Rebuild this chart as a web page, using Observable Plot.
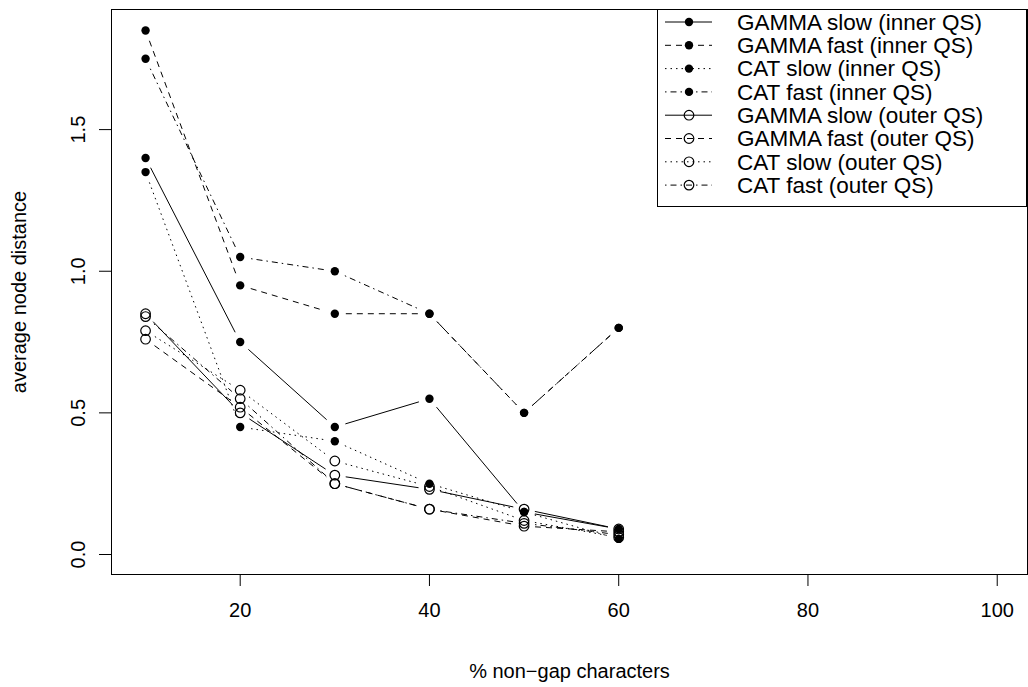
<!DOCTYPE html>
<html><head><meta charset="utf-8">
<script src="https://cdn.jsdelivr.net/npm/d3@7"></script>
<script src="https://cdn.jsdelivr.net/npm/@observablehq/plot@0.6"></script>
<style>
body{margin:0;background:#fff;font-family:"Liberation Sans",Arial,sans-serif;}
#wrap{position:relative;width:1028px;height:687px;overflow:hidden;}
#legend{position:absolute;left:657px;top:9px;}
</style></head><body><div id="wrap"></div>
<script>
// ---- data ----
const pctNonGap = [10, 20, 30, 40, 50, 60];
const xTicks = [20, 40, 60, 80, 100];
const yTicks = [0, 0.5, 1.0, 1.5];
const seriesLabels = [
  "GAMMA slow (inner QS)", "GAMMA fast (inner QS)", "CAT slow (inner QS)", "CAT fast (inner QS)",
  "GAMMA slow (outer QS)", "GAMMA fast (outer QS)", "CAT slow (outer QS)", "CAT fast (outer QS)"
];
const gammaSlowInner = [1.40, 0.75, 0.45, 0.55, 0.15, 0.09];
const gammaFastInner = [1.85, 0.95, 0.85, 0.85, 0.50, 0.80];
const catSlowInner   = [1.35, 0.45, 0.40, 0.25, 0.15, 0.055];
const catFastInner   = [1.75, 1.05, 1.00, 0.85, 0.50, 0.80];
const gammaSlowOuter = [0.85, 0.50, 0.28, 0.23, 0.16, 0.09];
const gammaFastOuter = [0.76, 0.52, 0.25, 0.16, 0.10, 0.08];
const catSlowOuter   = [0.79, 0.58, 0.33, 0.24, 0.12, 0.06];
const catFastOuter   = [0.84, 0.55, 0.25, 0.16, 0.11, 0.07];
const seriesValues = [gammaSlowInner, gammaFastInner, catSlowInner, catFastInner,
                      gammaSlowOuter, gammaFastOuter, catSlowOuter, catFastOuter];

// ---- styles ----
const lineTypes = ["solid", "dashed", "dotted", "dotdash", "solid", "dashed", "dotted", "dotdash"];
const filledMarker = [true, true, true, true, false, false, false, false];
const dashes = {solid: "none", dashed: "6,5", dotted: "1.5,4", dotdash: "1.5,4,6,4"};
const FONT = "Liberation Sans, Arial, Helvetica, sans-serif";

const points = seriesValues.flatMap((vals, i) => vals.map((v, j) => ({x: pctNonGap[j], y: v, s: i})));
const segments = i => seriesValues[i].slice(0, -1).map((v, j) => ({
  x1: pctNonGap[j], y1: v, x2: pctNonGap[j + 1], y2: seriesValues[i][j + 1]
}));

const marks = [Plot.frame({stroke: "black", strokeWidth: 1})];
seriesValues.forEach((_, i) => {
  marks.push(Plot.arrow(segments(i), {
    x1: "x1", y1: "y1", x2: "x2", y2: "y2", inset: 11, headLength: 0,
    stroke: "black", strokeWidth: 1, strokeLinecap: "butt",
    strokeDasharray: dashes[lineTypes[i]]
  }));
});
marks.push(Plot.dot(points.filter(p => filledMarker[p.s]), {x: "x", y: "y", r: 4.2, fill: "black", stroke: "none"}));
marks.push(Plot.dot(points.filter(p => !filledMarker[p.s]), {x: "x", y: "y", r: 4.8, fill: "none", stroke: "black", strokeWidth: 1.2}));
marks.push(Plot.axisX(xTicks, {tickSize: 12, tickPadding: 16, fontSize: 20, label: null, tickFormat: d => String(d)}));
marks.push(Plot.axisY(yTicks, {tickSize: 12, tickFormat: () => "", label: null}));
marks.push(Plot.text(yTicks, {y: d => d, frameAnchor: "left", dx: -33, rotate: -90, textAnchor: "middle", text: d => d.toFixed(1), fontSize: 20}));
marks.push(Plot.text(["% non\u2212gap characters"], {frameAnchor: "bottom", dy: 103, textAnchor: "middle", text: d => d, fontSize: 20}));
marks.push(Plot.text(["average node distance"], {frameAnchor: "left", dx: -92, rotate: -90, textAnchor: "middle", text: d => d, fontSize: 20}));

const chart = Plot.plot({
  width: 1028, height: 687,
  marginLeft: 111, marginRight: 1, marginTop: 9, marginBottom: 113,
  x: {domain: [6.4, 103.2]},
  y: {domain: [-0.0706, 1.924]},
  style: {fontFamily: FONT, fontSize: "20px", background: "white", color: "black"},
  marks
});
const wrap = document.getElementById("wrap");
wrap.appendChild(chart);

// ---- legend ----
const lg = d3.select(wrap).append("svg").attr("id", "legend")
  .attr("width", 371).attr("height", 199)
  .style("font-family", FONT);
lg.append("rect").attr("x", 0.5).attr("y", 0.5).attr("width", 369).attr("height", 197)
  .attr("fill", "white").attr("stroke", "black");
seriesLabels.forEach((lab, i) => {
  const cy = 13 + i * 23.3;
  lg.append("line").attr("x1", 8).attr("x2", 55).attr("y1", cy).attr("y2", cy)
    .attr("stroke", "black").attr("stroke-width", 1)
    .attr("stroke-dasharray", dashes[lineTypes[i]]);
  if (filledMarker[i]) {
    lg.append("circle").attr("cx", 32).attr("cy", cy).attr("r", 4.2).attr("fill", "black");
  } else {
    lg.append("circle").attr("cx", 32).attr("cy", cy).attr("r", 4.8).attr("fill", "none")
      .attr("stroke", "black").attr("stroke-width", 1.2);
  }
  lg.append("text").attr("x", 80).attr("y", cy).attr("dy", "0.35em")
    .attr("font-size", 22.5).text(lab);
});
</script></body></html>
